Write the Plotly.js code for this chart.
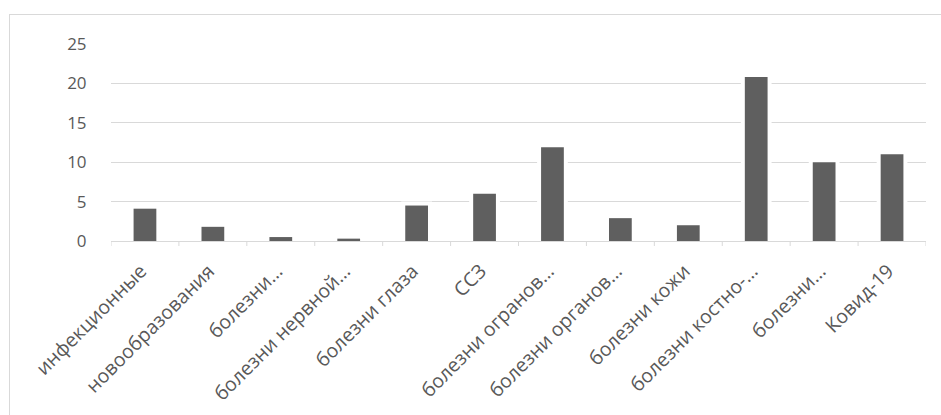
<!DOCTYPE html>
<html>
<head>
<meta charset="utf-8">
<script src="https://cdn.plot.ly/plotly-3.0.1.min.js"></script>
<style>
  html, body { margin: 0; padding: 0; background: #ffffff; }
  #wrap { position: relative; width: 941px; height: 415px; overflow: hidden; }
  #chart { position: absolute; left: 0; top: 0; width: 941px; height: 415px; }
  /* chart-area frame: only its top and left edges fall inside the page */
  #frame { position: absolute; left: 9px; top: 14px; width: 960px; height: 430px;
           border: 1px solid #d9d9d9; box-sizing: border-box; pointer-events: none; }
</style>
</head>
<body>
<div id="wrap">
  <div id="chart"></div>
  <div id="frame"></div>
</div>
<script>
// Disease categories (labels as shown, shortened where they do not fit)
const categories = [
  'инфекционные',
  'новообразования',
  'болезни…',
  'болезни нервной…',
  'болезни глаза',
  'ССЗ',
  'болезни огранов…',
  'болезни органов…',
  'болезни кожи',
  'болезни костно-…',
  'болезни…',
  'Ковид-19'
];

// Value for each category
const values = [4.1, 1.8, 0.5, 0.3, 4.5, 6.0, 11.9, 2.9, 2.0, 20.8, 10.0, 11.0];

// Y axis ticks
const yTicks = [0, 5, 10, 15, 20, 25];

// Positions on the category axis (duplicate labels need unique slots)
const xIdx = categories.map((_, i) => i);

const barColor = '#5f5f5f';
const textColor = '#595959';
const gridColor = '#d9d9d9';
const family = '"Open Sans", "Noto Sans", sans-serif';
const yFont = { family: family, size: 17, color: textColor };
const xFont = { family: family, size: 19.5, color: textColor };

// White halo behind each bar, so gridlines stop just short of it
const halo = {
  type: 'bar', x: xIdx, y: values, width: 0.335,
  marker: { color: '#ffffff', line: { color: '#ffffff', width: 8 } },
  hoverinfo: 'skip', showlegend: false
};
const bars = {
  type: 'bar', x: xIdx, y: values, width: 0.335,
  marker: { color: barColor, line: { width: 0 } },
  showlegend: false
};

const layout = {
  width: 941, height: 415,
  margin: { l: 111, r: 15, t: 44, b: 174, pad: 0 },
  paper_bgcolor: '#ffffff', plot_bgcolor: '#ffffff',
  barmode: 'overlay',
  font: yFont,
  xaxis: {
    type: 'linear',
    range: [-0.5, categories.length - 0.5],
    tickmode: 'array', tickvals: xIdx, ticktext: categories,
    tickangle: -45, tickfont: xFont, ticklabelshift: -4,
    showgrid: false, zeroline: false,
    showline: true, linecolor: gridColor, linewidth: 1,
    ticks: 'outside', ticklen: 10, tickcolor: 'rgba(0,0,0,0)',
    fixedrange: true
  },
  yaxis: {
    range: [0, 25],
    tickmode: 'array', tickvals: yTicks, ticktext: yTicks.map(String),
    tickfont: yFont,
    showgrid: true, gridcolor: gridColor, gridwidth: 1,
    zeroline: false, showline: false,
    ticks: 'outside', ticklen: 20, tickcolor: 'rgba(0,0,0,0)',
    fixedrange: true
  },
  shapes: []
};

// Tick marks on the category boundaries, below the axis line
for (let i = 0; i <= categories.length; i++) {
  layout.shapes.push({
    type: 'line', xref: 'x', yref: 'paper',
    x0: i - 0.5, x1: i - 0.5, y0: 0, y1: -5 / 197,
    line: { color: gridColor, width: 1 }
  });
}

Plotly.newPlot('chart', [halo, bars], layout, { displayModeBar: false, staticPlot: true });
</script>
</body>
</html>
